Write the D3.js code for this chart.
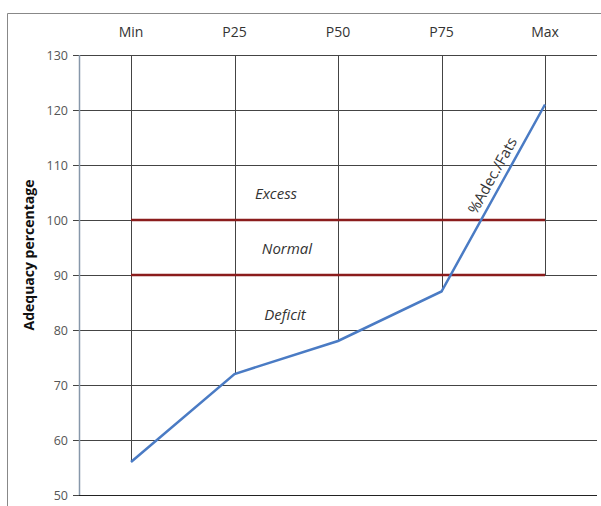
<!DOCTYPE html>
<html><head><meta charset="utf-8">
<script src="https://cdn.jsdelivr.net/npm/d3@7"></script>
<style>body{margin:0;background:#fff}svg{display:block}</style>
</head><body>
<script>
const categories = ["Min","P25","P50","P75","Max"];
const values = [56,72,78,87,121];
const dropTops = [130,130,130,130,130];
const dropBottoms = [56,72,78,87,90];
const yTicks = [50,60,70,80,90,100,110,120,130];
const bands = [100,90];
const bandLabels = [{t:"Excess",v:104},{t:"Normal",v:94},{t:"Deficit",v:82}];

const W=601,H=506;
const svg=d3.select("body").append("svg").attr("width",W).attr("height",H);
const font="'Open Sans', 'Noto Sans', sans-serif";

// frame
svg.append("path").attr("d","M7.5,506 V13.5 H601").attr("fill","none").attr("stroke","#888").attr("stroke-width",1);

const y=d3.scaleLinear().domain([50,130]).range([495,55]);
const x=d3.scalePoint().domain(categories).range([131,545]);
const x0=79,x1=597;

// gridlines + ticks
const ax=svg.append("g").attr("transform",`translate(${x0},0)`).call(d3.axisLeft(y).tickValues(yTicks).tickSize(6).tickFormat(d3.format("d")));
ax.select(".domain").remove();
ax.selectAll(".tick line").attr("stroke","#444");
ax.selectAll(".tick text").attr("fill","#555").attr("font-family",font).attr("font-size",12.5).attr("x",-11);
svg.append("g").selectAll("line").data(yTicks).join("line")
  .attr("x1",x0).attr("x2",x1).attr("y1",d=>Math.round(y(d))+0.5).attr("y2",d=>Math.round(y(d))+0.5)
  .attr("stroke",d=>d===50?"#222":"#444").attr("stroke-width",1);
// y axis line
svg.append("line").attr("x1",x0+0.5).attr("x2",x0+0.5).attr("y1",y(130)).attr("y2",y(50)).attr("stroke","#8797aa").attr("stroke-width",1.5);

// drop lines
svg.append("g").selectAll("line").data(categories).join("line")
  .attr("x1",d=>Math.round(x(d))+0.5).attr("x2",d=>Math.round(x(d))+0.5)
  .attr("y1",(d,i)=>y(dropTops[i])).attr("y2",(d,i)=>y(dropBottoms[i]))
  .attr("stroke","#444").attr("stroke-width",1);

// band lines
svg.append("g").selectAll("line").data(bands).join("line")
  .attr("x1",x("Min")).attr("x2",x("Max")).attr("y1",d=>y(d)).attr("y2",d=>y(d))
  .attr("stroke","#8b1c1c").attr("stroke-width",2.5);

// category labels
svg.append("g").selectAll("text").data(categories).join("text")
  .attr("x",d=>x(d)).attr("y",37).attr("text-anchor","middle")
  .attr("font-family",font).attr("font-size",14).attr("fill","#333").text(d=>d);

// band labels
svg.append("g").selectAll("text").data(bandLabels).join("text")
  .attr("x",(d,i)=>[276,287,285][i]).attr("y",d=>y(d.v)+1).attr("text-anchor","middle")
  .attr("font-family",font).attr("font-style","italic").attr("font-size",15).attr("fill","#333").text(d=>d.t);

// line
svg.append("path").datum(values).attr("fill","none").attr("stroke","#4a7bc4").attr("stroke-width",2.5)
  .attr("d",d3.line().x((d,i)=>x(categories[i])).y(d=>y(d)));

// rotated series label
svg.append("text").attr("transform","translate(497,178) rotate(-61)").attr("text-anchor","middle")
  .attr("font-family",font).attr("font-size",15).attr("fill","#333").text("%Adec./Fats");

// y title
svg.append("text").attr("transform","translate(34,255) rotate(-90)").attr("text-anchor","middle")
  .attr("font-family",font).attr("font-weight","bold").attr("font-size",14).attr("fill","#111").text("Adequacy percentage");
</script>
</body></html>
